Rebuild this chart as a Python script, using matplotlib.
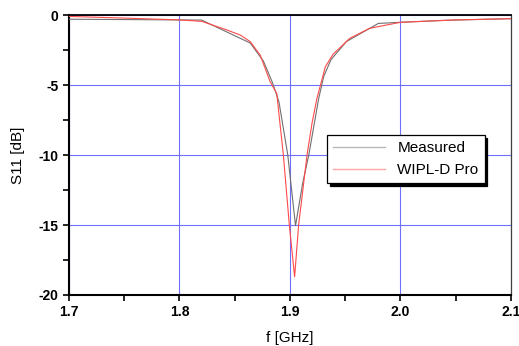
import matplotlib
matplotlib.use('Agg')
import matplotlib.pyplot as plt
from matplotlib.lines import Line2D
from matplotlib.ticker import MultipleLocator, FormatStrFormatter

# measured S11
f_meas = [1.700, 1.760, 1.820, 1.864, 1.876, 1.884, 1.890, 1.898, 1.905, 1.9115,
          1.917, 1.921, 1.926, 1.9305, 1.937, 1.951, 1.980, 2.000, 2.040, 2.100]
s_meas = [-0.30, -0.33, -0.36, -2.0, -3.3, -4.8, -6.2, -10.0, -15.05, -12.0,
          -10.0, -8.2, -5.95, -4.4, -3.2, -1.9, -0.6, -0.52, -0.38, -0.26]

# WIPL-D simulation
f_sim = [1.700, 1.750, 1.800, 1.820, 1.843, 1.855, 1.864, 1.873, 1.882, 1.888,
         1.894, 1.8994, 1.9042, 1.9078, 1.9124, 1.9154, 1.920, 1.9244, 1.932,
         1.939, 1.954, 1.972, 2.000, 2.050, 2.100]
s_sim = [-0.10, -0.22, -0.35, -0.45, -1.07, -1.43, -1.9, -2.86, -4.76, -5.6,
         -10.0, -15.0, -18.7, -15.0, -12.0, -10.0, -7.7, -5.95, -3.7,
         -2.8, -1.67, -0.95, -0.52, -0.35, -0.26]

labels = ['Measured', 'WIPL-D Pro']

plt.rcParams['font.family'] = ['Liberation Sans', 'DejaVu Sans']

fig = plt.figure(figsize=(5.19, 3.46), dpi=100)
ax = fig.add_axes([0.1329, 0.1474, 0.8517, 0.8092])

ax.grid(True, color='#7070ff', linewidth=0.8)
ax.set_axisbelow(True)
ax.plot(f_meas, s_meas, color='#707070', linewidth=0.8, zorder=3)
ax.plot(f_sim, s_sim, color='#ff4a4a', linewidth=0.8, zorder=3)

ax.set_xlim(1.7, 2.1)
ax.set_ylim(-20, 0)
ax.xaxis.set_major_locator(MultipleLocator(0.1))
ax.xaxis.set_minor_locator(MultipleLocator(0.05))
ax.yaxis.set_major_locator(MultipleLocator(5))
ax.yaxis.set_minor_locator(MultipleLocator(2.5))
ax.xaxis.set_major_formatter(FormatStrFormatter('%.1f'))
ax.yaxis.set_major_formatter(FormatStrFormatter('%d'))
ax.tick_params(which='both', direction='out', length=4, width=1.2, top=False, right=False)
for lab in ax.get_xticklabels() + ax.get_yticklabels():
    lab.set_fontweight('bold')
    lab.set_fontsize(10)

ax.spines['left'].set_linewidth(1.5)
ax.spines['bottom'].set_linewidth(1.5)
ax.spines['top'].set_linewidth(1.3)
ax.spines['right'].set_linewidth(0.9)
ax.spines['right'].set_color('#404040')

ax.set_xlabel('f [GHz]', fontsize=11, labelpad=8)
ax.set_ylabel('S11 [dB]', fontsize=11, labelpad=10)

handles = [Line2D([], [], color='#b8b8b8', linewidth=1.0),
           Line2D([], [], color='#ffa8a8', linewidth=1.0)]
leg = ax.legend(handles, labels, loc='upper left', bbox_to_anchor=(0.584, 0.571),
                fontsize=11, handlelength=3.4, borderaxespad=0, fancybox=False,
                edgecolor='black', framealpha=1,
                shadow={'color': 'black', 'alpha': 1})
leg.get_frame().set_linewidth(0.9)

fig.savefig('out.png', dpi=100)
